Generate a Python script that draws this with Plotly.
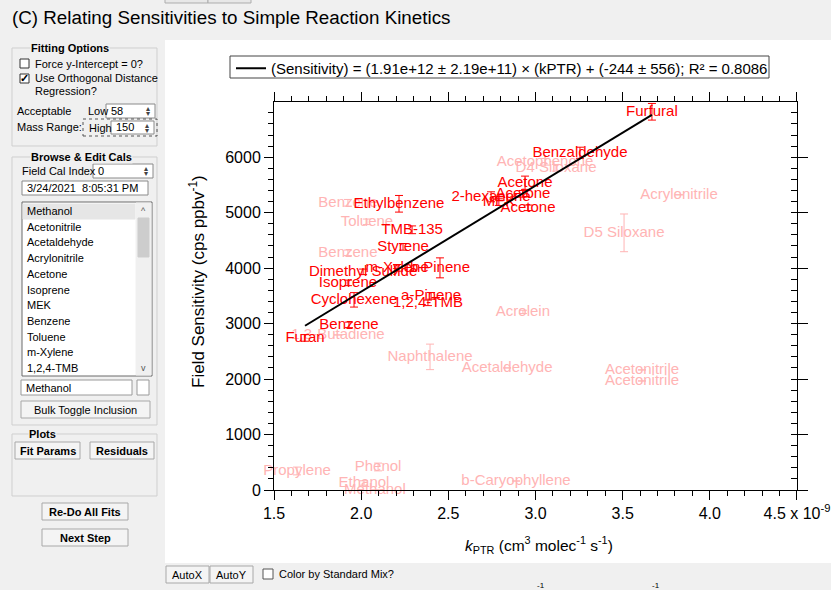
import plotly.graph_objects as go

# ---------------- data ----------------
# kPTR in units of 1e-9 cm3 molec-1 s-1 ; sensitivity in cps/ppbv
inc_names = ["Furfural", "Benzaldehyde", "Acetone", "2-hexanone", "Acetone", "MEK", "Acetone",
             "Ethylbenzene", "TMB-135", "Styrene", "m-Xylene", "b-Pinene", "Dimethyl Sulfide",
             "Isoprene", "Cyclohexene", "a-Pinene", "1,2,4-TMB", "Benzene", "Furan"]
inc_k = [3.668, 3.255, 2.940, 2.745, 2.928, 2.790, 2.957,
         2.217, 2.292, 2.240, 2.206, 2.452, 2.011,
         1.924, 1.959, 2.401, 2.383, 1.930, 1.678]
inc_s = [6819, 6080, 5539, 5286, 5340, 5190, 5087,
         5160, 4691, 4384, 4005, 4005, 3933,
         3734, 3428, 3500, 3374, 2977, 2742]
inc_err = [150, 100, 120, 90, 60, 60, 50,
           150, 70, 60, 60, 180, 50,
           50, 130, 60, 50, 50, 60]

exc_names = ["Acetophenone", "D4 Siloxane", "Acrylonitrile", "D5 Siloxane", "Benzene", "Toluene",
             "Benzene", "1,3-Butadiene", "Acrolein", "Naphthalene", "Acetaldehyde", "Acetonitrile",
             "Acetonitrile", "Propylene", "Phenol", "Ethanol", "Methanol", "b-Caryophyllene"]
exc_k = [3.055, 3.118, 3.823, 3.508, 1.924, 2.033,
         1.924, 1.867, 2.928, 2.395, 2.837, 3.611,
         3.611, 1.632, 2.097, 2.016, 2.079, 2.888]
exc_s = [5917, 5809, 5322, 4636, 5178, 4835,
         4276, 2796, 3211, 2400, 2201, 2165,
         1966, 343, 415, 126, 0, 162]
exc_err = [60, 60, 0, 340, 60, 50,
           50, 0, 30, 230, 0, 0,
           0, 70, 70, 40, 0, 0]

fit_slope = 1.91e12 * 1e-9   # per 1e-9 unit of kPTR
fit_intercept = -244
fit_label = "(Sensitivity) = (1.91e+12 ± 2.19e+11) × (kPTR) + (-244 ± 556); R² = 0.8086"

x_ticks = [1.5, 2.0, 2.5, 3.0, 3.5, 4.0, 4.5]
x_ticktext = ["1.5", "2.0", "2.5", "3.0", "3.5", "4.0", "4.5 x 10<sup>-9</sup>"]
y_ticks = [0, 1000, 2000, 3000, 4000, 5000, 6000]

list_items = ["Methanol", "Acetonitrile", "Acetaldehyde", "Acrylonitrile", "Acetone", "Isoprene",
              "MEK", "Benzene", "Toluene", "m-Xylene", "1,2,4-TMB"]

# ---------------- style ----------------
W, H = 831, 590
FONT = "Liberation Sans, Arial, sans-serif"
RED = "#ff0000"
PINK = "#ffb4b4"
BG = "#f0f0f0"


def X(px):
    return px / W


def Y(py):
    return 1 - py / H


shapes = []
annots = []


def rect(x0, y0, x1, y1, fill="rgba(0,0,0,0)", line="#a0a0a0", lw=1, dash="solid"):
    shapes.append(dict(type="rect", xref="paper", yref="paper", x0=X(x0), x1=X(x1),
                       y0=Y(y1), y1=Y(y0), fillcolor=fill,
                       line=dict(color=line, width=lw, dash=dash), layer="below"))


def txt(x, y, s, size=11, anchor="left", color="#000", bg=None, angle=0):
    d = dict(xref="paper", yref="paper", x=X(x), y=Y(y), text=s, showarrow=False,
             xanchor=anchor, yanchor="middle", font=dict(family=FONT, size=size, color=color),
             textangle=angle)
    if bg:
        d["bgcolor"] = bg
        d["borderpad"] = 0
    annots.append(d)


def button(x0, y0, x1, y1, label, bold=True):
    rect(x0, y0, x1, y1, fill="#f4f4f4", line="#a8a8a8")
    txt((x0 + x1) / 2, (y0 + y1) / 2, "<b>%s</b>" % label if bold else label, anchor="center")


def spinner(x, y0, y1):
    txt(x, y0 + (y1 - y0) * 0.32, "▴", size=8, anchor="center", color="#444")
    txt(x, y0 + (y1 - y0) * 0.70, "▾", size=8, anchor="center", color="#444")


# white graph region
rect(165, 40, 831, 563, fill="white", line="white", lw=0)
# clipped buttons at top
rect(165, -6, 208, 3, fill="#e8e8e8", line="#adadad")
rect(208, -6, 251, 3, fill="#e8e8e8", line="#adadad")
# legend frame
rect(230, 56, 769, 78, fill="white", line="#444")

# title
txt(10, 18, "(C) Relating Sensitivities to Simple Reaction Kinetics", size=18.8)

# Fitting options group
rect(12, 48, 157, 146, line="#cfcfcf")
txt(30, 48, "<b>Fitting Options</b>", bg=BG)
rect(20, 59, 29, 68, fill="white", line="#333")
txt(33, 64, "Force y-Intercept = 0?")
rect(20, 74, 29, 83, fill="white", line="#333")
txt(24.5, 78.5, "<b>✓</b>", size=11, anchor="center")
txt(33, 78, "Use Orthogonal Distance")
txt(33, 91, "Regression?")
txt(15, 111, "Acceptable")
txt(15, 127, "Mass Range:")
txt(86, 111, "Low")
rect(106, 104, 155, 118, fill="white", line="#8a8a8a")
txt(109, 111, "58")
spinner(148, 104, 118)
rect(83, 119, 157, 136, line="#555", dash="dot")
txt(87, 128, "High")
rect(111, 121, 154, 134, fill="white", line="#8a8a8a")
txt(114, 127.5, "150")
spinner(147, 121, 134)

# Browse & Edit group
rect(12, 157, 157, 425, line="#cfcfcf")
txt(30, 157, "<b>Browse &amp; Edit Cals</b>", bg=BG)
txt(20, 171, "Field Cal Index")
rect(93, 164, 153, 178, fill="white", line="#8a8a8a")
txt(96, 171, "0")
spinner(146, 164, 178)
rect(22, 181, 148, 195, fill="white", line="#8a8a8a")
txt(25, 188, "3/24/2021  8:05:31 PM")
rect(22, 202, 152, 376, fill="white", line="#6a6a6a")
rect(23, 204, 135, 219, fill="#e6e6e6", line="#e6e6e6")
for i, item in enumerate(list_items):
    txt(25, 211 + 15.7 * i, item)
rect(136, 203, 151, 375, fill="#f0f0f0", line="#f0f0f0")
rect(138, 218, 149, 257, fill="#cdcdcd", line="#cdcdcd")
txt(143.5, 211, "^", size=9, anchor="center", color="#555")
txt(143.5, 368, "v", size=9, anchor="center", color="#555")
rect(21, 380, 132, 395, fill="white", line="#9a9a9a")
txt(24, 387.5, "Methanol")
rect(137, 380, 149, 395, fill="white", line="#9a9a9a")
button(21, 401, 150, 418, "Bulk Toggle Inclusion", bold=False)

# Plots group
rect(12, 434, 157, 496, line="#cfcfcf")
txt(28, 434, "<b>Plots</b>", bg=BG)
button(15, 442, 80, 459, "Fit Params")
button(90, 442, 154, 459, "Residuals")
button(42, 503, 128, 520, "Re-Do All Fits")
button(42, 529, 128, 546, "Next Step")

# bottom controls
button(166, 566, 209, 583, "AutoX", bold=False)
button(210, 566, 253, 583, "AutoY", bold=False)
rect(263, 569, 273, 579, fill="white", line="#555")
txt(277, 574, "Color by Standard Mix?")
txt(541, 585, "-1", size=8, anchor="center")
txt(656, 585, "-1", size=8, anchor="center")

# axis titles
txt(197, 282, "Field Sensitivity (cps ppbv<sup>-1</sup>)", size=17, anchor="center", angle=-90)
txt(539, 545, "<i>k</i><sub>PTR</sub> (cm<sup>3</sup> molec<sup>-1</sup> s<sup>-1</sup>)",
    size=15.5, anchor="center")

# ---------------- traces ----------------
fig = go.Figure()
fig.add_trace(go.Scatter(
    x=exc_k, y=exc_s, text=exc_names, mode="text", textposition="middle center",
    textfont=dict(family=FONT, size=15, color=PINK),
    error_y=dict(type="data", array=exc_err, color=PINK, thickness=1, width=4),
    cliponaxis=False, showlegend=False, hoverinfo="skip"))
fig.add_trace(go.Scatter(
    x=inc_k, y=inc_s, text=inc_names, mode="text", textposition="middle center",
    textfont=dict(family=FONT, size=15, color=RED),
    error_y=dict(type="data", array=inc_err, color=RED, thickness=1, width=4),
    cliponaxis=False, showlegend=False, hoverinfo="skip"))
fx = [min(inc_k), max(inc_k)]
fy = [fit_slope * v + fit_intercept for v in fx]
fig.add_trace(go.Scatter(x=fx, y=fy, mode="lines", line=dict(color="black", width=2),
                         name=fit_label, showlegend=True, hoverinfo="skip"))
# invisible copies so that the mirrored / minor-tick axes are drawn
for xa, ya in (("x2", "y"), ("x3", "y"), ("x4", "y"), ("x", "y2")):
    fig.add_trace(go.Scatter(x=fx, y=fy, mode="lines", line=dict(color="rgba(0,0,0,0)"),
                             xaxis=xa, yaxis=ya, showlegend=False, hoverinfo="skip"))

xdom = [X(274), X(797)]
ydom = [Y(490), Y(102)]
XR = [1.4999, 4.5001]
YR = [0, 6995]
x_alias = {("%.1f" % v): t for v, t in zip(x_ticks, x_ticktext)}
TF = dict(family=FONT, size=16, color="black")

common = dict(showgrid=False, zeroline=False, showline=True, linecolor="black", linewidth=1,
              tickcolor="black", automargin=False, fixedrange=True)
# helper x axes that carry the 0.1 minor ticks as their own ticks
xminor_axis = dict(overlaying="x", anchor="y", range=XR, ticks="outside", ticklen=5,
                   tickmode="linear", tick0=1.5, dtick=0.1, showticklabels=False, **common)

fig.update_layout(
    width=W, height=H, autosize=False,
    margin=dict(l=0, r=0, t=0, b=0, pad=0),
    paper_bgcolor=BG, plot_bgcolor="white",
    font=dict(family=FONT, color="black"),
    shapes=shapes, annotations=annots,
    showlegend=True,
    legend=dict(x=X(231), y=Y(52), xanchor="left", yanchor="top", bgcolor="rgba(0,0,0,0)",
                borderwidth=0, font=dict(family=FONT, size=15, color="black"),
                itemclick=False),
    xaxis=dict(domain=xdom, range=XR, ticks="outside", ticklen=9,
               dtick=x_ticks[1] - x_ticks[0], tickformat=".1f",
               labelalias=x_alias, tickfont=TF,
               anchor="y", **common),
    yaxis=dict(domain=ydom, range=YR, ticks="outside", ticklen=9, tickmode="linear",
               tick0=y_ticks[0], dtick=y_ticks[1] - y_ticks[0], tickformat="d", tickfont=TF,
               minor=dict(tickmode="linear", tick0=0, dtick=200, ticks="outside",
                          ticklen=5, tickcolor="black"),
               anchor="x", **common),
    xaxis2=dict(overlaying="x", side="top", anchor="y", range=XR, ticks="outside", ticklen=9,
                tickmode="linear", tick0=1.5, dtick=0.5, showticklabels=False, **common),
    xaxis3=dict(side="bottom", **xminor_axis),
    xaxis4=dict(side="top", **xminor_axis),
    yaxis2=dict(overlaying="y", side="right", anchor="x", range=YR, ticks="outside", ticklen=10,
                tickmode="linear", tick0=0, dtick=1000, showticklabels=False,
                minor=dict(tickmode="linear", tick0=0, dtick=200, ticks="inside",
                           ticklen=6, tickcolor="black"),
                **common),
)

fig.write_html("out.html")
